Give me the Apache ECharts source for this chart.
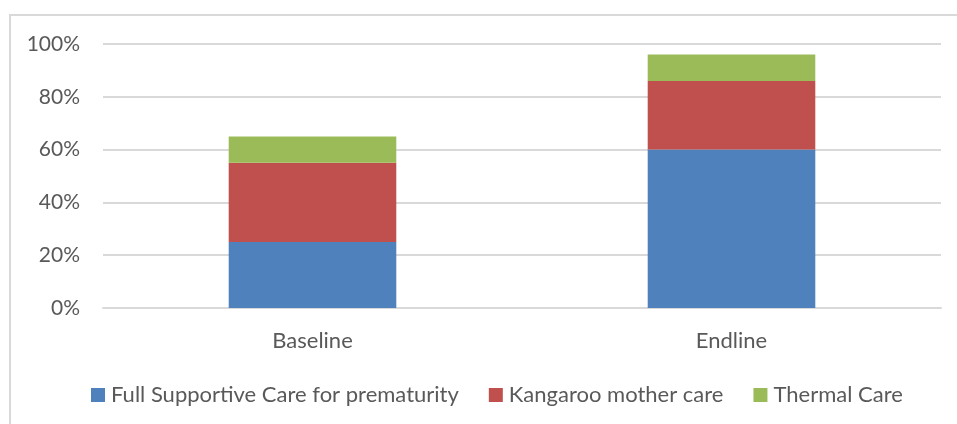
<!DOCTYPE html>
<html>
<head>
<meta charset="utf-8">
<script src="https://cdn.jsdelivr.net/npm/echarts@6/dist/echarts.min.js"></script>
<style>
html,body{margin:0;padding:0;background:#fff;}
#c{width:957px;height:424px;}
</style>
</head>
<body>
<div id="c"></div>
<script>
const categories = ['Baseline', 'Endline'];
const seriesNames = ['Full Supportive Care for prematurity', 'Kangaroo mother care', 'Thermal Care'];
const fullSupportive = [25, 60];
const kangaroo = [30, 26];
const thermal = [10, 10];
const colors = ['#4f81bd', '#c0504d', '#9bbb59'];
const yTicks = [0, 20, 40, 60, 80, 100];

const chart = echarts.init(document.getElementById('c'));
const font = 'Lato, "Open Sans", sans-serif';
const values = [fullSupportive, kangaroo, thermal];
chart.setOption({
  animation: false,
  graphic: [{
    type: 'rect',
    shape: { x: 10, y: 15, width: 1000, height: 500 },
    style: { fill: 'none', stroke: '#d9d9d9', lineWidth: 2 },
    silent: true
  }],
  grid: { left: 103, right: 16, top: 44, bottom: 116, containLabel: false },
  legend: {
    left: 86, top: 379,
    itemWidth: 14, itemHeight: 14, itemGap: 30,
    icon: 'rect',
    textStyle: { color: '#595959', fontSize: 22, fontFamily: font, padding: [0, 0, 0, 1] },
    data: seriesNames
  },
  xAxis: {
    type: 'category',
    data: categories,
    axisLine: { show: true, lineStyle: { color: '#d9d9d9', width: 2 } },
    axisTick: { show: false },
    axisLabel: { color: '#595959', fontSize: 22, fontFamily: font, margin: 22 }
  },
  yAxis: {
    type: 'value',
    min: yTicks[0], max: yTicks[yTicks.length - 1], interval: 20,
    axisLine: { show: false },
    axisTick: { show: false },
    splitLine: { lineStyle: { color: '#d9d9d9', width: 2 } },
    axisLabel: { color: '#595959', fontSize: 21, fontFamily: font, margin: 23, formatter: '{value}%' }
  },
  series: seriesNames.map((n, i) => ({
    name: n,
    type: 'bar',
    stack: 'total',
    barWidth: '40%',
    data: values[i],
    itemStyle: { color: colors[i] }
  }))
});
</script>
</body>
</html>
